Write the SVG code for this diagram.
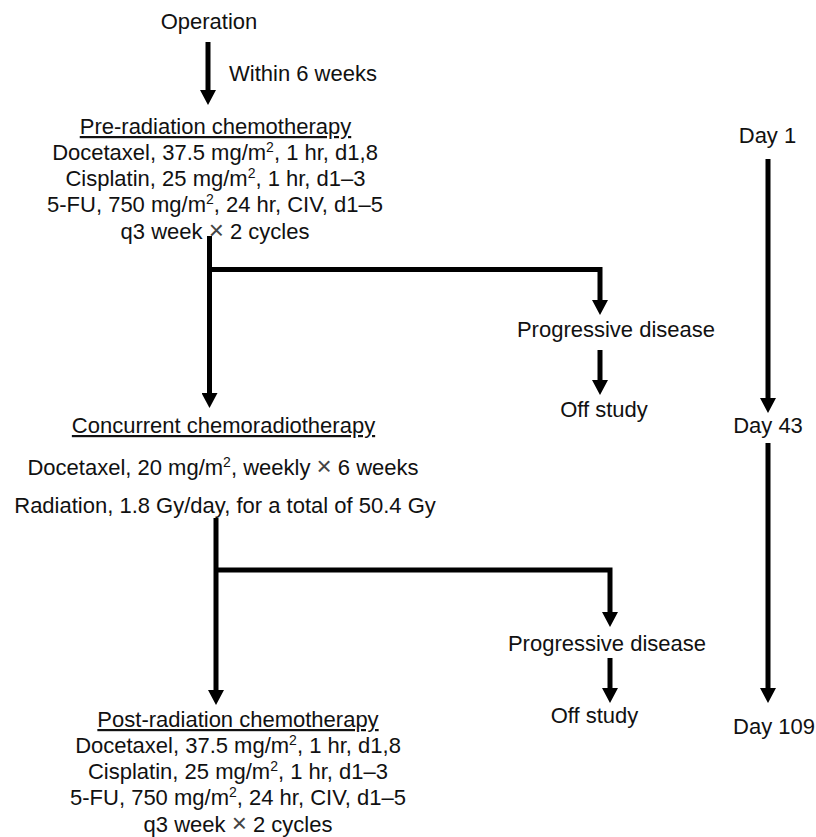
<svg xmlns="http://www.w3.org/2000/svg" width="816" height="837" viewBox="0 0 816 837">
<style>
text{font-family:"Liberation Sans",Arial,sans-serif;font-size:22px;fill:#111}
.c{text-anchor:middle}
.u{text-decoration:underline}
.s{font-size:14px}
.x{font-size:26px;fill:#444}
.ln{fill:none;stroke:#000;stroke-width:5;marker-end:url(#ah)}
</style>
<defs>
<marker id="ah" markerUnits="userSpaceOnUse" markerWidth="16" markerHeight="16" viewBox="0 0 16 16" refX="2" refY="8" orient="auto">
<path d="M0,0 L15,8 L0,16 z" fill="#000"/>
</marker>
</defs>
<g id="connectors">
<path class="ln" d="M208,42 V92"/>
<path class="ln" d="M209.5,236 V395"/>
<path class="ln" d="M209.5,269.5 H600 V302"/>
<path class="ln" d="M600,350 V382"/>
<path class="ln" d="M768,159 V400"/>
<path class="ln" d="M768,443 V690"/>
<path class="ln" d="M216,518 V692"/>
<path class="ln" d="M216,570 H610 V614"/>
<path class="ln" d="M610,658 V690"/>
</g>
<g id="operation"><text class="c" x="209" y="29">Operation</text></g>
<g id="within"><text x="229" y="81">Within 6 weeks</text></g>
<g id="pre">
<text class="c u" x="215.5" y="134">Pre-radiation chemotherapy</text>
<text class="c" x="215" y="160">Docetaxel, 37.5 mg/m<tspan class="s" dy="-8">2</tspan><tspan dy="8">, 1 hr, d1,8</tspan></text>
<text class="c" x="215.5" y="186">Cisplatin, 25 mg/m<tspan class="s" dy="-8">2</tspan><tspan dy="8">, 1 hr, d1–3</tspan></text>
<text class="c" x="215" y="212">5-FU, 750 mg/m<tspan class="s" dy="-8">2</tspan><tspan dy="8">, 24 hr, CIV, d1–5</tspan></text>
<text class="c" x="215" y="239">q3 week <tspan class="x">×</tspan> 2 cycles</text>
</g>
<g id="pd1"><text class="c" x="616" y="337">Progressive disease</text></g>
<g id="off1"><text class="c" x="604" y="417">Off study</text></g>
<g id="day1"><text class="c" x="767.5" y="143">Day 1</text></g>
<g id="day43"><text class="c" x="768" y="433">Day 43</text></g>
<g id="day109"><text class="c" x="774" y="734">Day 109</text></g>
<g id="concurrent">
<text class="c u" x="223.5" y="433">Concurrent chemoradiotherapy</text>
<text class="c" x="223" y="475">Docetaxel, 20 mg/m<tspan class="s" dy="-8">2</tspan><tspan dy="8">, weekly </tspan><tspan class="x">×</tspan> 6 weeks</text>
<text class="c" x="225" y="513">Radiation, 1.8 Gy/day, for a total of 50.4 Gy</text>
</g>
<g id="pd2"><text class="c" x="607" y="651">Progressive disease</text></g>
<g id="off2"><text class="c" x="594.5" y="723">Off study</text></g>
<g id="post">
<text class="c u" x="238" y="727">Post-radiation chemotherapy</text>
<text class="c" x="238" y="753">Docetaxel, 37.5 mg/m<tspan class="s" dy="-8">2</tspan><tspan dy="8">, 1 hr, d1,8</tspan></text>
<text class="c" x="238" y="779">Cisplatin, 25 mg/m<tspan class="s" dy="-8">2</tspan><tspan dy="8">, 1 hr, d1–3</tspan></text>
<text class="c" x="238" y="805">5-FU, 750 mg/m<tspan class="s" dy="-8">2</tspan><tspan dy="8">, 24 hr, CIV, d1–5</tspan></text>
<text class="c" x="238" y="832">q3 week <tspan class="x">×</tspan> 2 cycles</text>
</g>
</svg>
